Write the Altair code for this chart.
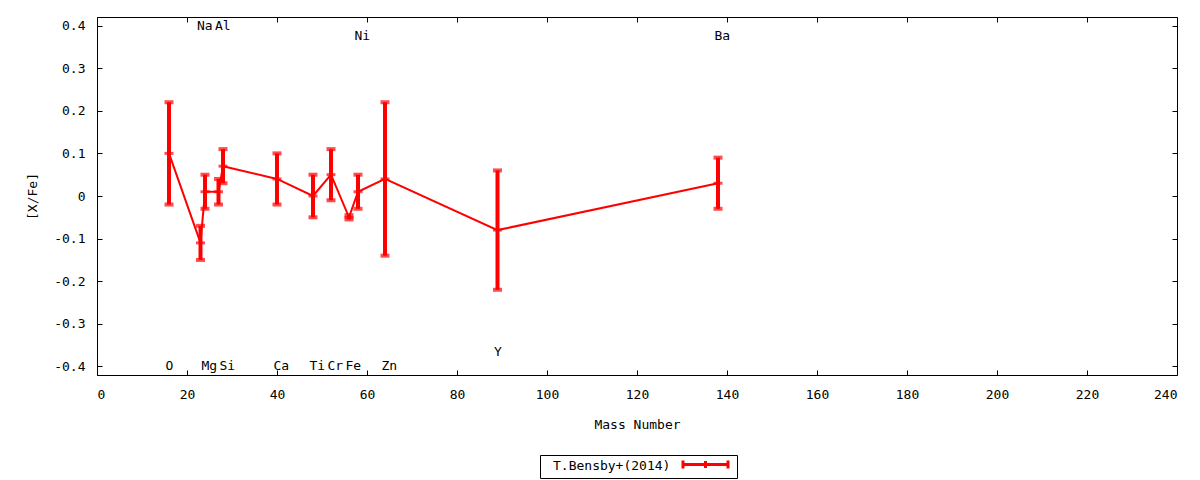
import altair as alt
import pandas as pd

# ---- data ----
elements = ["O", "Na", "Mg", "Al", "Si", "Ca", "Ti", "Cr", "Fe", "Ni", "Zn", "Y", "Ba"]
mass = [16, 23, 24, 27, 28, 40, 48, 52, 56, 58, 64, 89, 138]
xfe = [0.10, -0.11, 0.01, 0.01, 0.07, 0.04, 0.00, 0.05, -0.05, 0.01, 0.04, -0.08, 0.03]
err = [0.12, 0.04, 0.04, 0.03, 0.04, 0.06, 0.05, 0.06, 0.005, 0.04, 0.18, 0.14, 0.06]
label_y = [-0.40, 0.40, -0.40, 0.40, -0.40, -0.40, -0.40, -0.40, -0.40, 0.375, -0.40, -0.365, 0.375]
series_name = "T.Bensby+(2014)"

x_ticks = [0, 20, 40, 60, 80, 100, 120, 140, 160, 180, 200, 220, 240]
y_ticks = [-0.4, -0.3, -0.2, -0.1, 0.0, 0.1, 0.2, 0.3, 0.4]

df = pd.DataFrame({
    "element": elements,
    "mass": mass,
    "xfe": xfe,
    "err": err,
    "label_y": label_y,
})
df["lo"] = df["xfe"] - df["err"]
df["hi"] = df["xfe"] + df["err"]
df["series"] = series_name

FONT = "DejaVu Sans Mono"
FS = 13
RED = "#ff0000"
TK = 5

xs = alt.Scale(domain=[0, 240], nice=False, zero=False)
ys = alt.Scale(domain=[-0.42, 0.42], nice=False, zero=False)

y_label_expr = "datum.value == 0 ? '0' : (datum.value < 0 ? '-' : '') + format(abs(datum.value), '.1f')"

x_main = alt.Axis(orient="bottom", values=x_ticks, ticks=False, domain=False, grid=False,
                  labelPadding=13, labelFont=FONT, labelFontSize=FS, labelColor="black",
                  title="Mass Number", titleFont=FONT, titleFontSize=FS, titleFontWeight="normal",
                  titleColor="black", titleY=49, titleBaseline="middle")
y_main = alt.Axis(orient="left", values=y_ticks, ticks=False, domain=False, grid=False,
                  labelPadding=12, labelFont=FONT, labelFontSize=FS, labelColor="black",
                  labelExpr=y_label_expr,
                  title="[X/Fe]", titleFont=FONT, titleFontSize=FS, titleFontWeight="normal",
                  titleColor="black", titleX=-65, titleY=179, titleBaseline="middle")

def tick_axis(orient, values):
    return alt.Axis(orient=orient, values=values, ticks=True, tickSize=TK, tickColor="black",
                    tickWidth=1, offset=-TK, labels=False, domain=False, grid=False, title=None)

legend = alt.Legend(
    orient="none", legendX=443, legendY=455 - 17,
    title="\u2800" + series_name, titleOrient="left", titleFont=FONT, titleFontSize=FS,
    titleFontWeight="normal", titleColor="black", titlePadding=28, titleBaseline="middle",
    labelExpr="'\u2800'", labelOffset=6, labelFont=FONT, labelFontSize=6,
    strokeColor="black", padding=3, fillColor="white",
    symbolType="M-4.5,0L4.5,0M-4.5,-0.8L-4.5,0.8M4.5,-0.8L4.5,0.8M0,-0.7L0,0.7",
    symbolSize=100, symbolStrokeWidth=3, symbolStrokeColor=RED, symbolFillColor="transparent",
)

base = alt.Chart(df)

line = base.mark_line(strokeWidth=2).encode(
    x=alt.X("mass:Q", scale=xs, axis=x_main),
    y=alt.Y("xfe:Q", scale=ys, axis=y_main),
    color=alt.Color("series:N", scale=alt.Scale(domain=[series_name], range=[RED]), legend=legend),
)

bars = base.mark_rule(strokeWidth=4, color=RED).encode(
    x=alt.X("mass:Q", scale=xs, axis=tick_axis("bottom", x_ticks)),
    y=alt.Y("lo:Q", scale=ys, axis=tick_axis("left", y_ticks)),
    y2="hi:Q",
)

caps_lo = base.mark_tick(orient="horizontal", size=9, thickness=4, color=RED).encode(
    x=alt.X("mass:Q", scale=xs, axis=tick_axis("top", x_ticks)),
    y=alt.Y("lo:Q", scale=ys, axis=tick_axis("right", y_ticks)),
)
caps_hi = base.mark_tick(orient="horizontal", size=9, thickness=4, color=RED).encode(
    x=alt.X("mass:Q", scale=xs, axis=None),
    y=alt.Y("hi:Q", scale=ys, axis=None),
)
centers = base.mark_tick(orient="horizontal", size=9, thickness=3, color=RED).encode(
    x=alt.X("mass:Q", scale=xs, axis=None),
    y=alt.Y("xfe:Q", scale=ys, axis=None),
)

labels = base.mark_text(align="left", dx=-3.5, baseline="middle", font=FONT, fontSize=FS,
                        color="black").encode(
    x=alt.X("mass:Q", scale=xs, axis=None),
    y=alt.Y("label_y:Q", scale=ys, axis=None),
    text="element:N",
)

chart = alt.layer(line, bars, caps_lo, caps_hi, centers, labels).resolve_axis(
    x="independent", y="independent"
).properties(
    width=1080, height=358,
    autosize=alt.AutoSizeParams(type="none"),
    padding={"left": 89, "top": 9, "right": 15, "bottom": 105},
    background="white",
).configure_view(stroke="black", strokeWidth=1)

chart.save("out.html", embed_options={"renderer": "svg", "actions": False})
